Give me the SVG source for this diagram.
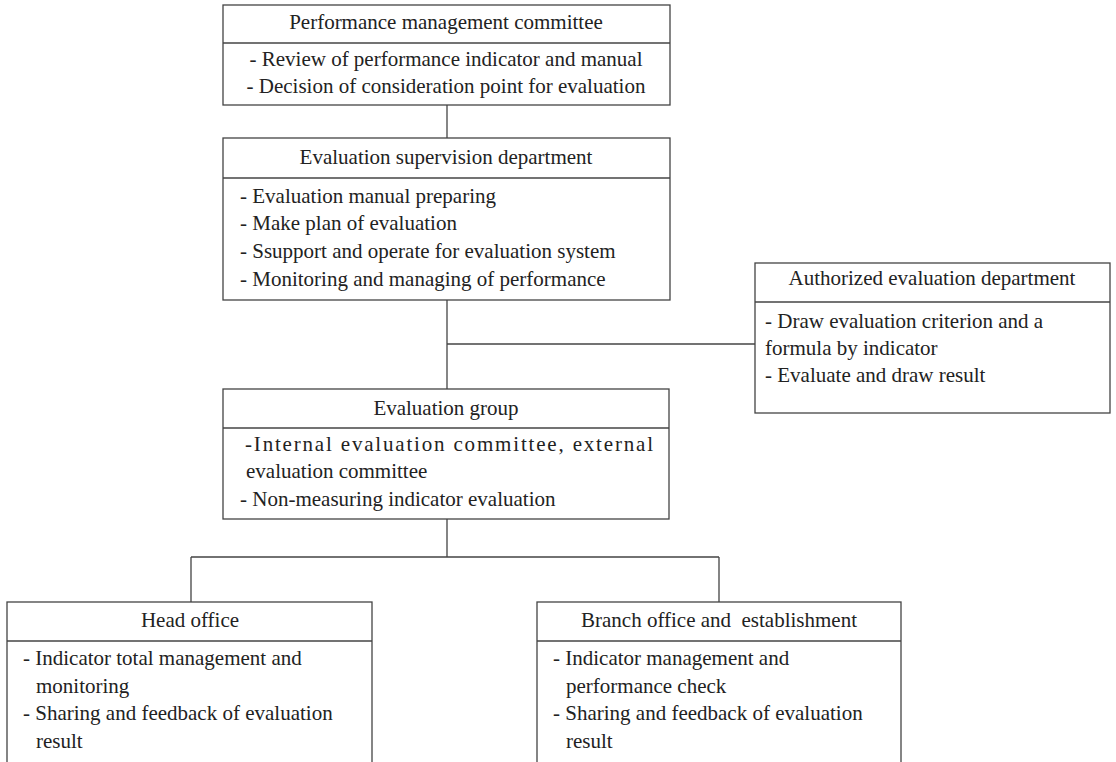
<svg xmlns="http://www.w3.org/2000/svg" width="1116" height="762" viewBox="0 0 1116 762">
<style>
.box{fill:#fff;stroke:#444;stroke-width:1.3}
.div{stroke:#444;stroke-width:1.3}
.con{fill:none;stroke:#444;stroke-width:1.3}
text{font-family:"Liberation Serif","Times New Roman",serif;font-size:21px;fill:#222}
.c{text-anchor:middle}
</style>
<rect width="1116" height="762" fill="#fff"/>
<g id="connectors">
<path class="con" d="M447,105 V138"/>
<path class="con" d="M447,300 V389"/>
<path class="con" d="M447,344 H755"/>
<path class="con" d="M447,519 V557 M191,557 H719 M191,557 V602 M719,557 V602"/>
</g>
<g id="pmc">
<rect class="box" x="223" y="5" width="447" height="100"/>
<line class="div" x1="223" y1="43" x2="670" y2="43"/>
<text class="c" x="446" y="29">Performance management committee</text>
<text class="c" x="446" y="66">- Review of performance indicator and manual</text>
<text class="c" x="446" y="93">- Decision of consideration point for evaluation</text>
</g>
<g id="esd">
<rect class="box" x="223" y="138" width="447" height="162"/>
<line class="div" x1="223" y1="178" x2="670" y2="178"/>
<text class="c" x="446" y="164">Evaluation supervision department</text>
<text x="240" y="203">- Evaluation manual preparing</text>
<text x="240" y="230">- Make plan of evaluation</text>
<text x="240" y="258">- Ssupport and operate for evaluation system</text>
<text x="240" y="286">- Monitoring and managing of performance</text>
</g>
<g id="aed">
<rect class="box" x="755" y="263" width="355" height="150"/>
<line class="div" x1="755" y1="302" x2="1110" y2="302"/>
<text class="c" x="932" y="285">Authorized evaluation department</text>
<text x="765" y="328">- Draw evaluation criterion and a</text>
<text x="765" y="355">  formula by indicator</text>
<text x="765" y="382">- Evaluate and draw result</text>
</g>
<g id="eg">
<rect class="box" x="223" y="389" width="446" height="130"/>
<line class="div" x1="223" y1="428" x2="669" y2="428"/>
<text class="c" x="446" y="415">Evaluation group</text>
<text x="245" y="451" textLength="408" lengthAdjust="spacing">-Internal evaluation committee, external</text>
<text x="246" y="478">evaluation committee</text>
<text x="240" y="506">- Non-measuring indicator evaluation</text>
</g>
<g id="head">
<rect class="box" x="7" y="602" width="365" height="180"/>
<line class="div" x1="7" y1="641" x2="372" y2="641"/>
<text class="c" x="190" y="627">Head office</text>
<text x="23" y="665">- Indicator total management and</text>
<text x="36" y="693">monitoring</text>
<text x="23" y="720">- Sharing and feedback of evaluation</text>
<text x="36" y="748">result</text>
</g>
<g id="branch">
<rect class="box" x="537" y="602" width="364" height="180"/>
<line class="div" x1="537" y1="641" x2="901" y2="641"/>
<text class="c" x="719" y="627" xml:space="preserve">Branch office and  establishment</text>
<text x="553" y="665">- Indicator management and</text>
<text x="566" y="693">performance check</text>
<text x="553" y="720">- Sharing and feedback of evaluation</text>
<text x="566" y="748">result</text>
</g>
</svg>
